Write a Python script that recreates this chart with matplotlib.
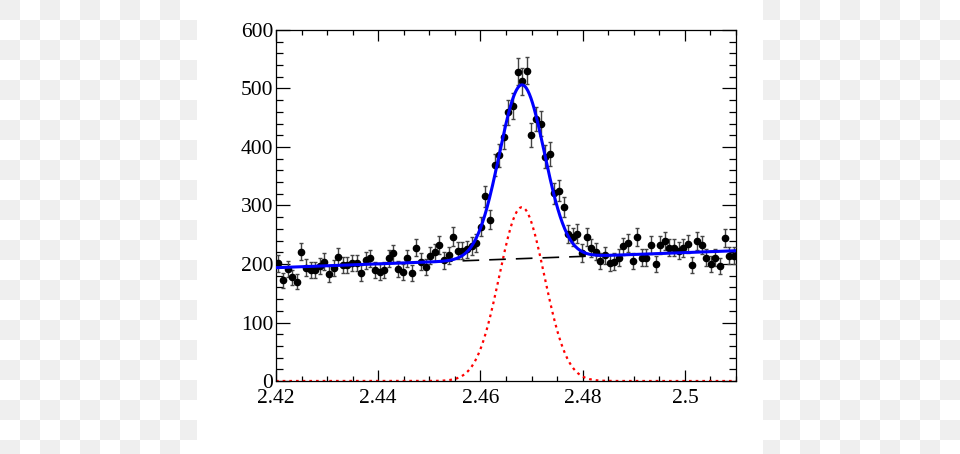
import numpy as np
import matplotlib
matplotlib.use("Agg")
import matplotlib.pyplot as plt
from matplotlib.ticker import MultipleLocator

plt.rcParams["font.family"] = ["Liberation Serif", "DejaVu Serif"]

# ── histogram data (bin centres, counts) ──
mass = [2.42045, 2.42135, 2.42225, 2.42315, 2.42405, 2.42495, 2.42585, 2.42675, 2.42765, 2.42855,
        2.42945, 2.43035, 2.43125, 2.43215, 2.43305, 2.43395, 2.43485, 2.43575, 2.43665, 2.43755,
        2.43845, 2.43935, 2.44025, 2.44115, 2.44205, 2.44295, 2.44385, 2.44475, 2.44565, 2.44655,
        2.44745, 2.44835, 2.44925, 2.45015, 2.45105, 2.45195, 2.45285, 2.45375, 2.45465, 2.45555,
        2.45645, 2.45735, 2.45825, 2.45915, 2.46005, 2.46095, 2.46185, 2.46275, 2.46365, 2.46455,
        2.46545, 2.46635, 2.46725, 2.46815, 2.46905, 2.46995, 2.47085, 2.47175, 2.47265, 2.47355,
        2.47445, 2.47535, 2.47625, 2.47715, 2.47805, 2.47895, 2.47985, 2.48075, 2.48165, 2.48255,
        2.48345, 2.48435, 2.48525, 2.48615, 2.48705, 2.48795, 2.48885, 2.48975, 2.49065, 2.49155,
        2.49245, 2.49335, 2.49425, 2.49515, 2.49605, 2.49695, 2.49785, 2.49875, 2.49965, 2.50055,
        2.50145, 2.50235, 2.50325, 2.50415, 2.50505, 2.50595, 2.50685, 2.50775, 2.50865, 2.50955]
counts = [201, 172, 191, 177, 170, 221, 194, 189, 189, 197,
          204, 183, 193, 212, 198, 198, 202, 202, 185, 206,
          210, 189, 186, 190, 210, 218, 191, 186, 210, 184,
          228, 204, 195, 214, 220, 232, 206, 215, 247, 223,
          223, 225, 231, 236, 264, 316, 276, 369, 386, 417,
          459, 470, 529, 512, 530, 420, 448, 440, 383, 388,
          321, 325, 298, 251, 246, 252, 219, 246, 227, 221,
          205, 215, 202, 204, 211, 230, 236, 205, 246, 211,
          211, 232, 200, 232, 239, 228, 228, 223, 227, 234,
          198, 239, 232, 211, 200, 211, 197, 244, 214, 214]
errors = np.sqrt(counts)

# ── fit result: gaussian signal + linear background ──
sig_amp, sig_mean, sig_width = 297.0, 2.4681, 0.0044
bkg_lo, bkg_hi = 193.7, 222.7   # background at x = 2.42 and 2.51
x_lo, x_hi = 2.42, 2.51

xf = np.linspace(x_lo, x_hi, 600)
bkg = bkg_lo + (bkg_hi - bkg_lo) * (xf - x_lo) / (x_hi - x_lo)
sig = sig_amp * np.exp(-0.5 * ((xf - sig_mean) / sig_width) ** 2)

fig = plt.figure(figsize=(9.6, 4.54), dpi=100)

# page background: faint checker strips left and right
H, W = 454, 960
bg = np.ones((H, W, 3))
yy, xx = np.mgrid[0:H, 0:W]
checker = ((yy // 20 + xx // 20) % 2 == 0)
side = (xx < 197) | (xx >= 763)
bg[checker & side] = 0.94
fig.figimage(bg, 0, 0, zorder=-10)

ax = fig.add_axes([276 / 960, 73 / 454, 460 / 960, 351 / 454])
ax.set_zorder(5)
ax.set_facecolor("white")

ax.plot(xf, sig, color="#ff0000", ls=(0, (1.2, 1.8)), lw=1.6, zorder=2)
ax.plot(xf, bkg, color="black", ls=(0, (10, 6)), lw=1.2, zorder=2)
ax.errorbar(mass, counts, yerr=errors, fmt="o", color="black", ms=4.5,
            ecolor="#444444", elinewidth=1.0, capsize=1.5, capthick=1.0, zorder=3)
ax.plot(xf, bkg + sig, color="#0000ff", lw=2.2, zorder=4)

ax.set_xlim(x_lo, x_hi)
ax.set_ylim(0, 600)
ax.xaxis.set_minor_locator(MultipleLocator(0.005))
ax.yaxis.set_major_locator(MultipleLocator(100))
ax.yaxis.set_minor_locator(MultipleLocator(20))
ax.set_xticks([2.42, 2.44, 2.46, 2.48, 2.5])
ax.set_xticklabels(["2.42", "2.44", "2.46", "2.48", "2.5"])

ax.tick_params(axis="both", which="both", direction="in", top=True, right=True,
               labelsize=15.5, color="black")
ax.tick_params(axis="x", which="major", length=8, width=0.9, pad=6)
ax.tick_params(axis="x", which="minor", length=3.5, width=0.9)
ax.tick_params(axis="y", which="major", length=10, width=0.9, pad=2)
ax.tick_params(axis="y", which="minor", length=5, width=0.9)
for s in ax.spines.values():
    s.set_linewidth(0.9)

fig.savefig("out.png", dpi=100)
